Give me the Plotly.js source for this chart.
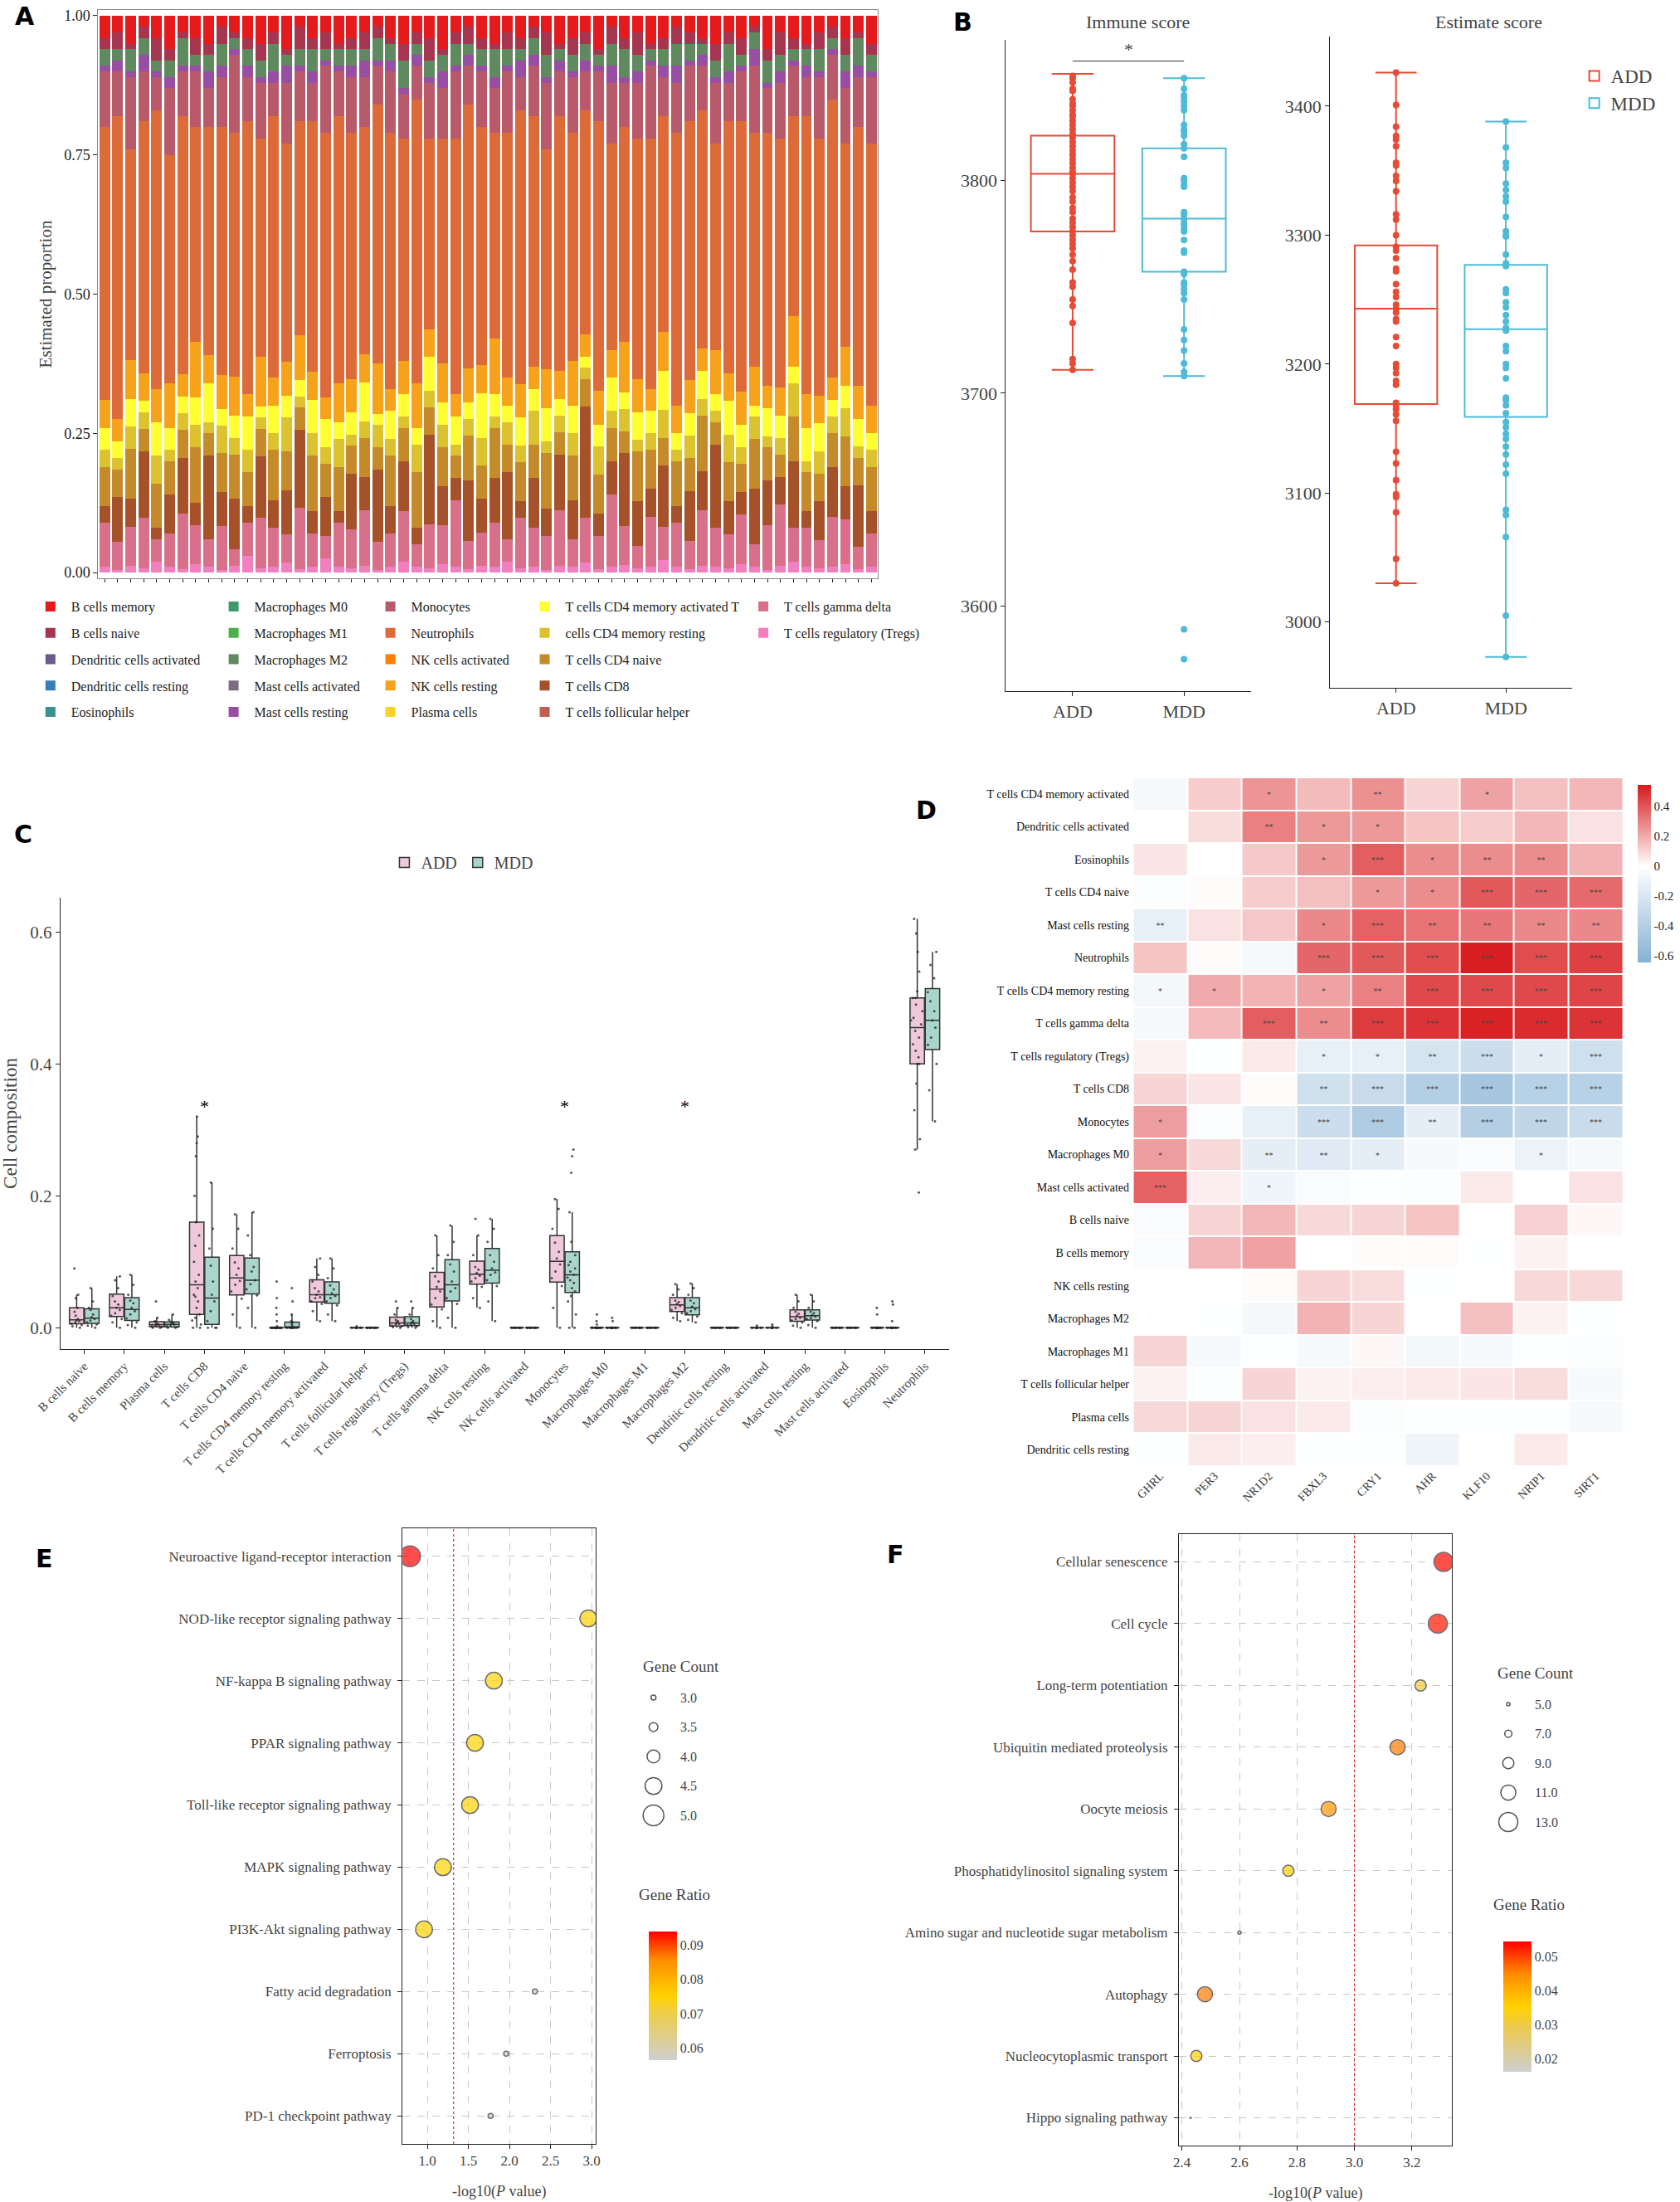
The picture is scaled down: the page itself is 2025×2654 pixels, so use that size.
<!DOCTYPE html>
<html><head><meta charset="utf-8">
<script src="https://cdn.plot.ly/plotly-3.0.1.min.js"></script>
<style>body{margin:0;background:#fff}#g{width:2025px;height:2654px}</style>
</head><body><div id="g"></div>
<script>
// ---------------- Panel A data ----------------
const cellTypes = ["B cells memory","B cells naive","Dendritic cells activated","Dendritic cells resting","Eosinophils","Macrophages M0","Macrophages M1","Macrophages M2","Mast cells activated","Mast cells resting","Monocytes","Neutrophils","NK cells activated","NK cells resting","Plasma cells","T cells CD4 memory activated T","cells CD4 memory resting","T cells CD4 naive","T cells CD8","T cells follicular helper","T cells gamma delta","T cells regulatory (Tregs)"];
const cellColors = ["#e41a1c","#a6364f","#6b5a8a","#377eb8","#3a8f8f","#3f9a6a","#4daf4a","#5f8a5f","#7d6b82","#984ea3","#b85a6a","#dd6b3a","#ff7f00","#f7a21b","#fdd02a","#ffff33","#ddc22f","#c58b2a","#a5522a","#c06050","#d8708a","#f27fbf"];
const aTregs=[0.01,0.005,0.012,0.008,0.02,0.01,0.006,0.015,0.01,0.004,0.012,0.03,0.008,0.01,0.018,0.006,0.01,0.025,0.01,0.008,0.012,0.005,0.01,0.02,0.01,0.007,0.015,0.01,0.006,0.012,0.01,0.02,0.008,0.01,0.005,0.012,0.01,0.018,0.006,0.01,0.014,0.008,0.01,0.022,0.01,0.006,0.012,0.01,0.008,0.015,0.01,0.005,0.012,0.02,0.01,0.008,0.01,0.015,0.006,0.01];
const aGammaDelta=[0.08,0.05,0.07,0.09,0.04,0.06,0.1,0.07,0.05,0.08,0.03,0.06,0.09,0.07,0.05,0.11,0.06,0.04,0.08,0.07,0.1,0.05,0.06,0.09,0.04,0.08,0.07,0.12,0.05,0.06,0.08,0.04,0.09,0.07,0.06,0.1,0.05,0.08,0.06,0.13,0.07,0.04,0.09,0.06,0.08,0.05,0.1,0.07,0.06,0.09,0.04,0.08,0.11,0.06,0.07,0.05,0.09,0.08,0.04,0.06];
const aCD8=[0.03,0.08,0.05,0.12,0.02,0.07,0.1,0.04,0.15,0.06,0.09,0.03,0.11,0.05,0.08,0.14,0.04,0.07,0.02,0.1,0.06,0.13,0.05,0.09,0.03,0.16,0.07,0.04,0.11,0.06,0.08,0.12,0.03,0.09,0.05,0.1,0.07,0.2,0.04,0.06,0.13,0.08,0.05,0.11,0.03,0.09,0.07,0.15,0.06,0.04,0.1,0.08,0.05,0.12,0.03,0.07,0.09,0.06,0.11,0.04];
const aCD4naive=[0.07,0.05,0.09,0.04,0.08,0.06,0.05,0.1,0.04,0.07,0.08,0.06,0.05,0.09,0.07,0.04,0.1,0.06,0.08,0.05,0.07,0.04,0.09,0.06,0.1,0.05,0.07,0.04,0.08,0.06,0.09,0.05,0.07,0.06,0.1,0.04,0.08,0.05,0.07,0.06,0.04,0.09,0.07,0.05,0.08,0.06,0.1,0.04,0.07,0.05,0.09,0.06,0.04,0.08,0.07,0.05,0.06,0.09,0.05,0.08];
const aCD4rest=[0.03,0.02,0.04,0.03,0.05,0.02,0.03,0.04,0.02,0.05,0.03,0.04,0.02,0.03,0.06,0.02,0.04,0.03,0.05,0.02,0.03,0.04,0.03,0.02,0.05,0.03,0.04,0.02,0.03,0.05,0.02,0.04,0.03,0.06,0.02,0.03,0.04,0.02,0.05,0.03,0.04,0.02,0.03,0.05,0.02,0.04,0.03,0.02,0.05,0.03,0.04,0.02,0.03,0.06,0.02,0.04,0.03,0.05,0.02,0.03];
const aCD4act=[0.04,0.03,0.05,0.02,0.06,0.04,0.03,0.05,0.07,0.03,0.04,0.06,0.02,0.05,0.04,0.03,0.06,0.05,0.03,0.04,0.07,0.02,0.05,0.04,0.03,0.06,0.04,0.05,0.03,0.08,0.04,0.03,0.05,0.04,0.06,0.03,0.05,0.02,0.04,0.06,0.03,0.05,0.04,0.07,0.03,0.04,0.05,0.03,0.06,0.04,0.02,0.05,0.04,0.03,0.06,0.05,0.03,0.04,0.05,0.03];
const aNKrest=[0.05,0.04,0.07,0.05,0.06,0.08,0.04,0.1,0.05,0.06,0.07,0.04,0.09,0.05,0.06,0.08,0.05,0.04,0.07,0.06,0.05,0.09,0.04,0.06,0.08,0.05,0.07,0.04,0.06,0.05,0.1,0.05,0.06,0.04,0.07,0.05,0.08,0.04,0.06,0.05,0.09,0.06,0.04,0.07,0.05,0.06,0.04,0.08,0.05,0.06,0.07,0.04,0.05,0.09,0.06,0.05,0.04,0.07,0.06,0.05];
const aMono=[0.1,0.08,0.13,0.09,0.06,0.12,0.08,0.1,0.07,0.09,0.14,0.08,0.1,0.06,0.11,0.09,0.07,0.12,0.08,0.1,0.09,0.07,0.11,0.08,0.06,0.1,0.09,0.12,0.07,0.1,0.08,0.11,0.06,0.09,0.12,0.08,0.1,0.07,0.09,0.11,0.08,0.1,0.13,0.07,0.09,0.1,0.08,0.11,0.07,0.09,0.12,0.08,0.1,0.09,0.07,0.11,0.08,0.1,0.09,0.12];
const aMastRest=[0.01,0.02,0.01,0.03,0.01,0.02,0.01,0.01,0.03,0.02,0.01,0.02,0.01,0.02,0.03,0.01,0.02,0.01,0.01,0.02,0.03,0.01,0.02,0.01,0.02,0.01,0.03,0.01,0.02,0.01,0.02,0.01,0.03,0.02,0.01,0.02,0.01,0.02,0.01,0.03,0.01,0.02,0.01,0.02,0.03,0.01,0.02,0.01,0.02,0.01,0.03,0.01,0.02,0.01,0.02,0.01,0.01,0.03,0.02,0.01];
const aM2=[0.03,0.02,0.04,0.03,0.02,0.03,0.05,0.02,0.03,0.04,0.02,0.03,0.03,0.05,0.02,0.03,0.04,0.02,0.03,0.03,0.02,0.04,0.03,0.05,0.02,0.03,0.03,0.04,0.02,0.03,0.05,0.03,0.02,0.03,0.04,0.02,0.03,0.03,0.02,0.04,0.05,0.03,0.02,0.03,0.04,0.03,0.02,0.03,0.05,0.02,0.03,0.04,0.03,0.02,0.03,0.04,0.02,0.03,0.05,0.03];
const aBnaive=[0.02,0.03,0.01,0.02,0.04,0.02,0.01,0.03,0.02,0.03,0.01,0.02,0.03,0.02,0.01,0.04,0.02,0.03,0.01,0.02,0.03,0.02,0.01,0.03,0.02,0.04,0.01,0.02,0.03,0.02,0.01,0.03,0.02,0.02,0.04,0.01,0.03,0.02,0.01,0.03,0.02,0.04,0.01,0.02,0.03,0.02,0.01,0.03,0.02,0.03,0.01,0.02,0.04,0.02,0.01,0.03,0.02,0.03,0.01,0.02];
const aBmem=[0.04,0.03,0.05,0.02,0.04,0.06,0.03,0.04,0.05,0.02,0.03,0.04,0.05,0.03,0.06,0.02,0.04,0.03,0.05,0.04,0.03,0.02,0.04,0.05,0.03,0.04,0.06,0.03,0.02,0.04,0.05,0.03,0.04,0.02,0.03,0.05,0.04,0.03,0.06,0.02,0.04,0.03,0.05,0.04,0.02,0.03,0.04,0.05,0.03,0.04,0.02,0.06,0.03,0.04,0.05,0.03,0.02,0.04,0.03,0.05];

// ---------------- Panel B data ----------------
const immuneADD=[3849,3848,3846,3843,3842,3838,3836,3835,3833,3831,3830,3828,3826,3824,3822,3820,3818,3816,3814,3812,3810,3808,3806,3804,3803,3801,3799,3797,3795,3792,3790,3787,3785,3782,3780,3778,3776,3774,3772,3770,3768,3765,3762,3758,3752,3750,3744,3741,3733,3716,3714,3711];
const immuneMDD=[3848,3843,3840,3839,3837,3835,3833,3826,3824,3823,3821,3817,3815,3811,3801,3800,3798,3797,3785,3784,3782,3780,3779,3777,3776,3772,3767,3766,3757,3756,3752,3751,3749,3747,3744,3730,3725,3720,3714,3710,3708,3589,3575];
const estADD=[3426,3401,3384,3377,3374,3369,3356,3354,3346,3342,3334,3316,3312,3300,3291,3288,3282,3274,3272,3262,3256,3252,3246,3243,3240,3235,3233,3221,3214,3200,3197,3193,3187,3184,3170,3168,3165,3161,3156,3132,3123,3110,3099,3097,3085,3049,3030];
const estMDD=[3388,3368,3356,3352,3340,3335,3330,3326,3314,3303,3300,3299,3285,3278,3276,3258,3255,3248,3244,3238,3233,3228,3226,3214,3210,3200,3197,3189,3174,3172,3168,3162,3155,3151,3146,3142,3136,3130,3122,3115,3087,3083,3066,3005,2973];
// box stats [q1, median, q3, lower whisker, upper whisker]
const immuneStatsADD=[3776,3803,3821,3711,3850], immuneStatsMDD=[3757,3782,3815,3708,3848];
const estStatsADD=[3169,3243,3292,3030,3426], estStatsMDD=[3159,3227,3277,2973,3388];

// ---------------- Panel C data ----------------
const cCats=["B cells naive","B cells memory","Plasma cells","T cells CD8","T cells CD4 naive","T cells CD4 memory resting","T cells CD4 memory activated","T cells follicular helper","T cells regulatory (Tregs)","T cells gamma delta","NK cells resting","NK cells activated","Monocytes","Macrophages M0","Macrophages M1","Macrophages M2","Dendritic cells resting","Dendritic cells activated","Mast cells resting","Mast cells activated","Eosinophils","Neutrophils"];
const cADD=[
[0,0.002,0.004,0.006,0.008,0.010,0.011,0.013,0.018,0.024,0.03,0.045,0.05,0.09],
[0,0.008,0.013,0.018,0.022,0.027,0.03,0.035,0.04,0.048,0.06,0.072,0.078],
[0,0,0.001,0.002,0.003,0.004,0.005,0.006,0.008,0.01,0.015,0.04],
[0,0,0.005,0.011,0.015,0.02,0.03,0.04,0.047,0.05,0.06,0.07,0.08,0.1,0.124,0.14,0.16,0.2,0.26,0.28,0.29,0.32],
[0,0.02,0.044,0.055,0.065,0.071,0.08,0.09,0.099,0.12,0.15,0.172],
[0,0,0,0,0,0,0,0,0,0,0,0,0,0,0,0,0,0,0,0,0.002,0.01,0.02,0.03,0.045,0.07],
[0.01,0.025,0.036,0.04,0.045,0.046,0.05,0.055,0.06,0.07,0.08,0.092,0.105],
[0,0,0,0,0,0,0,0,0,0,0,0.002],
[0,0.001,0.002,0.003,0.005,0.006,0.008,0.01,0.012,0.02,0.03,0.04],
[0,0.01,0.028,0.035,0.045,0.055,0.062,0.07,0.078,0.09,0.11,0.14],
[0.03,0.045,0.062,0.07,0.075,0.079,0.083,0.088,0.092,0.11,0.14,0.165],
[0,0,0,0,0,0,0,0,0,0,0,0],
[0,0.03,0.063,0.075,0.085,0.096,0.105,0.115,0.129,0.15,0.18,0.195],
[0,0,0,0,0,0,0,0,0,0,0,0,0,0,0,0,0.005,0.01,0.02],
[0,0,0,0,0,0,0,0,0,0,0,0],
[0.01,0.015,0.022,0.027,0.03,0.033,0.036,0.039,0.041,0.05,0.058,0.066],
[0,0,0,0,0,0,0,0,0,0,0,0],
[0,0,0,0,0,0,0,0,0,0,0,0.003],
[0,0.003,0.008,0.011,0.013,0.015,0.018,0.021,0.024,0.03,0.04,0.05],
[0,0,0,0,0,0,0,0,0,0,0,0],
[0,0,0,0,0,0,0,0,0,0,0,0,0,0,0,0,0.02,0.03],
[0.205,0.27,0.286,0.33,0.37,0.40,0.40,0.41,0.42,0.43,0.44,0.45,0.46,0.466,0.47,0.48,0.49,0.5,0.5,0.51,0.54,0.57,0.598,0.62]];
const cMDD=[
[0,0.003,0.005,0.008,0.011,0.013,0.016,0.02,0.027,0.03,0.04,0.06],
[0,0.004,0.008,0.014,0.02,0.025,0.03,0.037,0.041,0.05,0.065,0.08],
[0,0,0.001,0.002,0.004,0.005,0.006,0.008,0.009,0.012,0.02],
[0,0,0,0.01,0.025,0.04,0.05,0.07,0.094,0.12,0.15,0.22],
[0,0.03,0.049,0.058,0.066,0.072,0.085,0.092,0.11,0.14,0.175],
[0,0,0,0,0,0,0,0,0,0,0.003,0.006,0.008,0.01,0.02,0.04,0.06],
[0.01,0.02,0.034,0.04,0.045,0.048,0.052,0.058,0.064,0.075,0.09,0.105],
[0,0,0,0,0,0,0,0,0,0,0,0],
[0,0.001,0.002,0.004,0.005,0.006,0.008,0.01,0.013,0.02,0.03,0.04],
[0,0.015,0.036,0.045,0.055,0.06,0.07,0.085,0.096,0.11,0.13,0.155],
[0.01,0.04,0.063,0.072,0.08,0.084,0.09,0.1,0.11,0.13,0.15,0.165],
[0,0,0,0,0,0,0,0,0,0,0,0],
[0,0,0.02,0.04,0.048,0.055,0.06,0.068,0.072,0.076,0.08,0.085,0.09,0.095,0.1,0.11,0.13,0.175,0.235,0.26,0.27],
[0,0,0,0,0,0,0,0,0,0,0,0,0,0,0,0.01,0.015],
[0,0,0,0,0,0,0,0,0,0,0,0],
[0.008,0.012,0.017,0.022,0.025,0.028,0.032,0.037,0.041,0.05,0.06,0.067],
[0,0,0,0,0,0,0,0,0,0,0,0],
[0,0,0,0,0,0,0,0,0,0,0.002,0.005],
[0,0.004,0.01,0.013,0.015,0.017,0.019,0.022,0.024,0.03,0.04,0.05],
[0,0,0,0,0,0,0,0,0,0,0,0],
[0,0,0,0,0,0,0,0,0,0,0,0,0,0,0.01,0.035,0.04],
[0.313,0.36,0.4,0.429,0.44,0.455,0.466,0.48,0.495,0.509,0.53,0.55,0.57]];
const cSig=["","","","*","","","","","","","","","*","","","*","","","","","",""];

// ---------------- Panel D data ----------------
const dGenes=["GHRL","PER3","NR1D2","FBXL3","CRY1","AHR","KLF10","NRIP1","SIRT1"];
const dCells=["T cells CD4 memory activated","Dendritic cells activated","Eosinophils","T cells CD4 naive","Mast cells resting","Neutrophils","T cells CD4 memory resting","T cells gamma delta","T cells regulatory (Tregs)","T cells CD8","Monocytes","Macrophages M0","Mast cells activated","B cells naive","B cells memory","NK cells resting","Macrophages M2","Macrophages M1","T cells follicular helper","Plasma cells","Dendritic cells resting"];
const dCorr=[
[-0.05,0.12,0.25,0.16,0.26,0.1,0.22,0.15,0.17],
[0,0.08,0.3,0.24,0.24,0.14,0.12,0.17,0.07],
[0.06,0,0.13,0.24,0.38,0.27,0.27,0.27,0.18],
[-0.02,0.01,0.12,0.15,0.24,0.27,0.39,0.36,0.35],
[-0.12,0.07,0.13,0.28,0.37,0.33,0.32,0.28,0.28],
[0.14,0.01,-0.05,0.36,0.39,0.42,0.53,0.42,0.45],
[-0.07,0.2,0.18,0.22,0.3,0.43,0.43,0.43,0.44],
[-0.05,0.16,0.38,0.27,0.46,0.48,0.52,0.5,0.48],
[0.03,-0.01,0.05,-0.12,-0.12,-0.22,-0.27,-0.14,-0.26],
[0.1,0.06,0.01,-0.25,-0.3,-0.4,-0.47,-0.38,-0.38],
[0.23,-0.02,-0.12,-0.27,-0.42,-0.14,-0.4,-0.33,-0.29],
[0.23,0.09,-0.14,-0.17,-0.14,-0.04,-0.03,-0.1,-0.05],
[0.37,0.04,-0.08,-0.03,-0.01,-0.02,0.05,0,0.07],
[-0.03,0.1,0.17,0.09,0.1,0.14,0,0.11,0.02],
[-0.03,0.17,0.22,0,0.01,0.01,-0.01,0.03,0],
[0,0,0.01,0.1,0.08,-0.01,0,0.09,0.09],
[0,-0.01,-0.06,0.18,0.1,0,0.15,0.03,-0.01],
[0.1,-0.04,-0.01,-0.05,0.02,-0.07,-0.04,-0.01,-0.02],
[0.03,-0.02,0.1,0.03,0.04,0.05,0.06,0.08,-0.04],
[0.09,0.1,0.07,0.05,-0.02,-0.01,-0.01,-0.01,-0.04],
[-0.01,0.05,0.04,-0.01,-0.01,-0.08,0,0.05,0]];
const dStars=[
["","","*","","**","","*","",""],
["","","**","*","*","","","",""],
["","","","*","***","*","**","**",""],
["","","","","*","*","***","***","***"],
["**","","","*","***","**","**","**","**"],
["","","","***","***","***","***","***","***"],
["*","*","","*","**","***","***","***","***"],
["","","***","**","***","***","***","***","***"],
["","","","*","*","**","***","*","***"],
["","","","**","***","***","***","***","***"],
["*","","","***","***","**","***","***","***"],
["*","","**","**","*","","","*",""],
["***","","*","","","","","",""],
["","","","","","","","",""],["","","","","","","","",""],["","","","","","","","",""],
["","","","","","","","",""],["","","","","","","","",""],["","","","","","","","",""],
["","","","","","","","",""],["","","","","","","","",""]];

// ---------------- Panel E / F data ----------------
const ePaths=["Neuroactive ligand-receptor interaction","NOD-like receptor signaling pathway","NF-kappa B signaling pathway","PPAR signaling pathway","Toll-like receptor signaling pathway","MAPK signaling pathway","PI3K-Akt signaling pathway","Fatty acid degradation","Ferroptosis","PD-1 checkpoint pathway"];
const eLogP=[0.79,2.96,1.81,1.58,1.52,1.19,0.96,2.31,1.96,1.77];
const eCount=[5,4.5,4.5,4.5,4.5,4.5,4.5,3,3,3];
const eRatio=[0.094,0.075,0.075,0.075,0.075,0.075,0.075,0.058,0.058,0.058];
const fPaths=["Cellular senescence","Cell cycle","Long-term potentiation","Ubiquitin mediated proteolysis","Oocyte meiosis","Phosphatidylinositol signaling system","Amino sugar and nucleotide sugar metabolism","Autophagy","Nucleocytoplasmic transport","Hippo signaling pathway"];
const fLogP=[3.31,3.29,3.23,3.15,2.91,2.77,2.60,2.48,2.45,2.43];
const fCount=[13,13,9,11,11,9,5,11,9,4];
const fRatio=[0.054,0.053,0.031,0.046,0.043,0.035,0.022,0.046,0.035,0.018];
const eCountLegend=[3.0,3.5,4.0,4.5,5.0], fCountLegend=[5.0,7.0,9.0,11.0,13.0];

// ================= build =================
const W=2025,H=2654, px=x=>x/W, py=y=>1-y/H;
const SERIF="Liberation Serif";
const traces=[], shapes=[], ann=[];
const A=(o)=>ann.push(Object.assign({xref:"paper",yref:"paper",showarrow:false,yanchor:"middle",xanchor:"center"},o));

// ---- A ----
const nS=aTregs.length, sampleIdx=aTregs.map((_,i)=>i+1);
const aNeut=sampleIdx.map((_,i)=>1-(aTregs[i]+aGammaDelta[i]+aCD8[i]+aCD4naive[i]+aCD4rest[i]+aCD4act[i]+aNKrest[i]+aMono[i]+aMastRest[i]+aM2[i]+aBnaive[i]+aBmem[i]));
const aVals={"B cells memory":aBmem,"B cells naive":aBnaive,"Macrophages M2":aM2,"Mast cells resting":aMastRest,"Monocytes":aMono,"Neutrophils":aNeut,"NK cells resting":aNKrest,"T cells CD4 memory activated T":aCD4act,"cells CD4 memory resting":aCD4rest,"T cells CD4 naive":aCD4naive,"T cells CD8":aCD8,"T cells gamma delta":aGammaDelta,"T cells regulatory (Tregs)":aTregs};
const legCol=i=>i<5?"legend":i<10?"legend2":i<15?"legend3":i<20?"legend4":"legend5";
for(let k=cellTypes.length-1;k>=0;k--){
  const nm=cellTypes[k], v=aVals[nm];
  traces.push({type:"bar",x:v?sampleIdx:[1],y:v?v:[0],name:nm,legendgroup:"g"+k,legendrank:k+1,marker:{color:cellColors[k],line:{width:0}},xaxis:"x",yaxis:"y",legend:legCol(k),hoverinfo:"skip"});
}

// ---- B ----
const boxB=(xa,ya,cat,st,col,show)=>({type:"box",x:[cat],q1:[st[0]],median:[st[1]],q3:[st[2]],lowerfence:[st[3]],upperfence:[st[4]],width:0.75,fillcolor:"rgba(0,0,0,0)",line:{color:col,width:2},xaxis:xa,yaxis:ya,name:cat,showlegend:show,legend:"legend7",boxpoints:false,marker:{color:col,size:9}});
const ptsB=(xa,ya,cat,vals,col)=>({type:"scatter",mode:"markers",x:vals.map(()=>cat),y:vals,marker:{color:col,size:8},xaxis:xa,yaxis:ya,showlegend:false,hoverinfo:"skip"});
const cA="#e64b35", cM="#4dbbd5";
traces.push(boxB("x2","y2","ADD",immuneStatsADD,cA,true),boxB("x2","y2","MDD",immuneStatsMDD,cM,true));
traces.push(ptsB("x2","y2","ADD",immuneADD,cA),ptsB("x2","y2","MDD",immuneMDD,cM));
traces.push(boxB("x3","y3","ADD",estStatsADD,cA,false),boxB("x3","y3","MDD",estStatsMDD,cM,false));
traces.push(ptsB("x3","y3","ADD",estADD,cA),ptsB("x3","y3","MDD",estMDD,cM));

// ---- C ----
cCats.forEach((c,i)=>{
  [[cADD[i],-0.19,"#efc8dc","ADD"],[cMDD[i],0.19,"#a9d5cc","MDD"]].forEach(([vals,off,fc,nm])=>{
    traces.push({type:"box",x:vals.map(()=>i+off),y:vals,width:0.36,fillcolor:fc,line:{color:"#333",width:1.5},
      boxpoints:"all",jitter:0.9,pointpos:0,marker:{color:"#222",size:3,opacity:0.75},whiskerwidth:0,
      name:nm,showlegend:i===0,legend:"legend6",xaxis:"x4",yaxis:"y4",hoverinfo:"skip"});
  });
  if(cSig[i]) ann.push({xref:"x4",yref:"y4",x:i,y:0.335,text:cSig[i],showarrow:false,font:{family:SERIF,size:22,color:"#000"}});
});

// ---- D ----
traces.push({type:"heatmap",x:dGenes,y:dCells,z:dCorr,text:dStars,texttemplate:"%{text}",textfont:{size:10,color:"#444"},
  zmin:-0.643,zmax:0.542,xgap:2,ygap:2,xaxis:"x5",yaxis:"y5",hoverinfo:"skip",
  colorscale:[[0,"#86b1d4"],[0.5426,"#ffffff"],[1,"#d7191c"]],
  colorbar:{x:px(1975),xanchor:"left",y:py(1053),yanchor:"middle",len:234/H,lenmode:"fraction",thickness:16,outlinewidth:0,
    tickvals:[-0.6,-0.4,-0.2,0,0.2,0.4],ticktext:["-0.6","-0.4","-0.2","0","0.2","0.4"],ticks:"",tickfont:{family:SERIF,size:15,color:"#222"}}});

// ---- E / F ----
const eSize=c=>6+(c-3)*(25-6)/2, fSize=c=>4+(c-5)*(25-6)/8;
const gr=[[0,"#cfcfcf"],[0.38,"#f0cd45"],[0.5,"#ffd200"],[0.78,"#ff8c00"],[1,"#ff0000"]];
traces.push({type:"scatter",mode:"markers",x:eLogP,y:ePaths,xaxis:"x6",yaxis:"y6",showlegend:false,hoverinfo:"skip",
  marker:{size:eCount.map(eSize),color:eRatio,cmin:0.0565,cmax:0.094,colorscale:gr,line:{color:"#333",width:1.5},
  colorbar:{x:px(776),xanchor:"left",y:py(2318),yanchor:"top",len:175/H,thickness:34,outlinewidth:0,tickvals:[0.06,0.07,0.08,0.09],ticktext:["0.06","0.07","0.08","0.09"],ticks:"",tickfont:{family:SERIF,size:16}}}});
traces.push({type:"scatter",mode:"markers",x:fLogP,y:fPaths,xaxis:"x7",yaxis:"y7",showlegend:false,hoverinfo:"skip",
  marker:{size:fCount.map(fSize),color:fRatio,cmin:0.0163,cmax:0.0544,colorscale:[[0,"#cfcfcf"],[0.35,"#ecc94a"],[0.5,"#ffd200"],[0.75,"#ff8c00"],[1,"#ff0000"]],line:{color:"#333",width:1.5},
  colorbar:{x:px(1812),xanchor:"left",y:py(2330),yanchor:"top",len:177/H,thickness:34,outlinewidth:0,tickvals:[0.02,0.03,0.04,0.05],ticktext:["0.02","0.03","0.04","0.05"],ticks:"",tickfont:{family:SERIF,size:16}}}});
A({x:px(772),y:py(2283),xanchor:"left",text:"Gene Ratio",font:{family:SERIF,size:19}});
A({x:px(1808),y:py(2295),xanchor:"left",text:"Gene Ratio",font:{family:SERIF,size:19}});
// gene count legends
const countLeg=(vals,sz,cx,ys,lx,ty)=>{
  A({x:px(cx-15),y:py(ty),xanchor:"left",text:"Gene Count",font:{family:SERIF,size:19}});
  vals.forEach((v,i)=>{const d=sz(v),yy=ys+i*(35.5);
    shapes.push({type:"circle",xref:"paper",yref:"paper",xsizemode:"pixel",ysizemode:"pixel",xanchor:px(cx),yanchor:py(yy),x0:-d/2,x1:d/2,y0:-d/2,y1:d/2,line:{color:"#555",width:1.5}});
    A({x:px(lx),y:py(yy),xanchor:"left",text:v.toFixed(1),font:{family:SERIF,size:16}});});
};
countLeg(eCountLegend,eSize,792,2046,822,2008);
countLeg(fCountLegend,fSize,1828,2054,1858,2016);
shapes.push({type:"line",xref:"x6",yref:"y6 domain",x0:1.32,x1:1.32,y0:0,y1:1,line:{color:"#d62728",width:1.2,dash:"dot"}});
shapes.push({type:"line",xref:"x7",yref:"y7 domain",x0:3.0,x1:3.0,y0:0,y1:1,line:{color:"#d62728",width:1.2,dash:"dot"}});
// B significance
shapes.push({type:"line",xref:"x2",yref:"y2",x0:0,x1:1,y0:3856,y1:3856,line:{color:"#333",width:1}});
ann.push({xref:"x2",yref:"y2",x:0.5,y:3856,yanchor:"bottom",text:"*",showarrow:false,font:{family:SERIF,size:22}});
// titles & panel letters
A({x:px(1379),y:py(27),text:"Immune score",font:{family:SERIF,size:22}});
A({x:px(1804),y:py(27),text:"Estimate score",font:{family:SERIF,size:22}});
[["A",30,20],["B",1167,27],["C",28,1005],["D",1123,976],["E",54,1878],["F",1085,1873]].forEach(([t,x,y])=>
  A({x:px(x),y:py(y),text:"<b>"+t+"</b>",font:{family:"DejaVu Sans",size:30,color:"#000"}}));

const tf={family:SERIF,size:18,color:"#222"};
const baseAx={showgrid:false,zeroline:false,showline:true,linecolor:"#222",ticks:"outside",ticklen:5,tickcolor:"#222",tickfont:tf};
const legBase={orientation:"v",yanchor:"top",y:py(714),font:{family:SERIF,size:16,color:"#222"},bgcolor:"rgba(0,0,0,0)",tracegroupgap:8,traceorder:"grouped",itemwidth:40};
const layout={width:W,height:H,paper_bgcolor:"#fff",plot_bgcolor:"rgba(0,0,0,0)",margin:{l:0,r:0,t:0,b:0},barmode:"stack",bargap:0.18,
  font:{family:SERIF},
  legend:{...legBase,x:px(36)},legend2:{...legBase,x:px(258)},legend3:{...legBase,x:px(448)},legend4:{...legBase,x:px(635)},legend5:{...legBase,x:px(900)},
  legend6:{orientation:"h",x:px(470),y:py(1020),yanchor:"top",font:{family:SERIF,size:20}},
  legend7:{orientation:"v",x:px(1912),y:py(70),yanchor:"top",font:{family:SERIF,size:23},tracegroupgap:0},
  xaxis:{...baseAx,domain:[px(119),px(1064)],range:[0.5,nS+0.5],showticklabels:false,dtick:1,ticklen:4,mirror:true,linecolor:"#888",anchor:"y"},
  yaxis:{...baseAx,domain:[py(697),py(12)],range:[-0.0104,1.0104],tickvals:[0,0.25,0.5,0.75,1],ticktext:["0.00","0.25","0.50","0.75","1.00"],mirror:true,linecolor:"#888",anchor:"x",
    title:{text:"Estimated proportion",font:{family:SERIF,size:21},standoff:8}},
  xaxis2:{...baseAx,domain:[px(1219),px(1516)],range:[-0.6,1.6],type:"category",anchor:"y2",tickfont:{family:SERIF,size:22}},
  yaxis2:{...baseAx,domain:[py(833),py(48)],range:[3560,3866],dtick:100,anchor:"x2",tickfont:{family:SERIF,size:22}},
  xaxis3:{...baseAx,domain:[px(1612),px(1905)],range:[-0.6,1.6],type:"category",anchor:"y3",tickfont:{family:SERIF,size:22}},
  yaxis3:{...baseAx,domain:[py(829),py(44)],range:[2949,3454],dtick:100,anchor:"x3",tickfont:{family:SERIF,size:22}},
  xaxis4:{...baseAx,domain:[px(73),px(1150)],range:[-0.6,21.6],tickvals:cCats.map((_,i)=>i),ticktext:cCats,tickangle:-45,anchor:"y4",tickfont:{family:SERIF,size:15}},
  yaxis4:{...baseAx,domain:[py(1626),py(1082)],range:[-0.0325,0.652],tickvals:[0,0.2,0.4,0.6],ticktext:["0.0","0.2","0.4","0.6"],anchor:"x4",tickfont:{family:SERIF,size:21},
    title:{text:"Cell composition",font:{family:SERIF,size:23},standoff:12}},
  xaxis5:{domain:[px(1373),px(1967)],anchor:"y5",tickangle:-45,showgrid:false,zeroline:false,tickfont:{family:SERIF,size:14,color:"#333"},ticks:""},
  yaxis5:{domain:[py(1767),py(937)],anchor:"x5",autorange:"reversed",showgrid:false,zeroline:false,tickfont:{family:SERIF,size:14,color:"#111"},ticks:"",ticksuffix:" "},
  xaxis6:{...baseAx,domain:[px(488),px(722)],range:[0.7,3.05],tickvals:[1,1.5,2,2.5,3],ticktext:["1.0","1.5","2.0","2.5","3.0"],anchor:"y6",mirror:true,
    showgrid:true,gridcolor:"#c8c8c8",griddash:"dash",tickfont:{family:SERIF,size:17},title:{text:"-log10(<i>P</i> value)",font:{family:SERIF,size:18},standoff:20}},
  yaxis6:{...baseAx,domain:[py(2584),py(1842)],range:[9.45,-0.45],type:"category",anchor:"x6",mirror:true,showgrid:true,gridcolor:"#c8c8c8",griddash:"dash",tickfont:{family:SERIF,size:17},ticksuffix:" "},
  xaxis7:{...baseAx,domain:[px(1429),px(1760)],range:[2.39,3.34],tickvals:[2.4,2.6,2.8,3.0,3.2],ticktext:["2.4","2.6","2.8","3.0","3.2"],anchor:"y7",mirror:true,
    showgrid:true,gridcolor:"#c8c8c8",griddash:"dash",tickfont:{family:SERIF,size:17},title:{text:"-log10(<i>P</i> value)",font:{family:SERIF,size:18},standoff:20}},
  yaxis7:{...baseAx,domain:[py(2586),py(1849)],range:[9.45,-0.45],type:"category",anchor:"x7",mirror:true,showgrid:true,gridcolor:"#c8c8c8",griddash:"dash",tickfont:{family:SERIF,size:17},ticksuffix:" "},
  shapes:shapes,annotations:ann};
Plotly.newPlot("g",traces,layout,{staticPlot:true});
</script></body></html>
